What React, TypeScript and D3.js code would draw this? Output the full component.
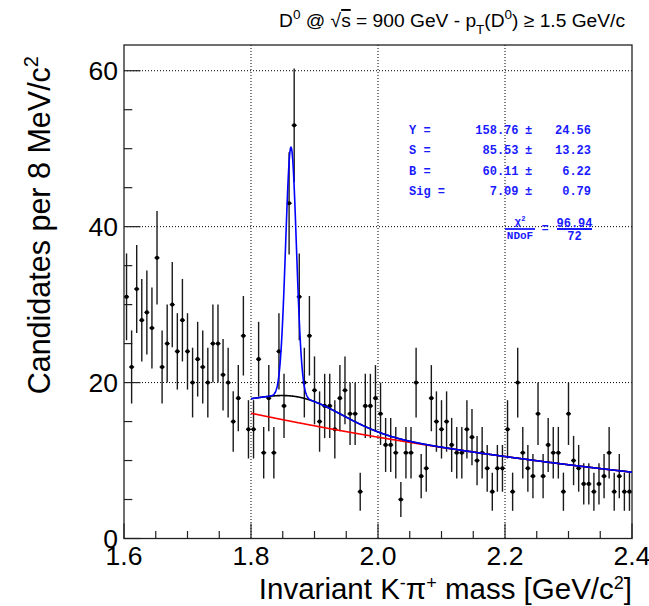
import React from 'react';
import * as d3 from 'd3';

// Histogram: 8 MeV bins from 1.6 to 2.4 GeV/c^2
const binLow = 1.6;
const binWidth = 0.008;
const counts = [
  31, 22, 32, 28, 29, 27, 36, 22, 25, 30,
  24, 28, 24, 20, 23, 22, 20, 25, 25, 21,
  20, 15, 18, 26, 14, 14, 23, 11, 18, 11,
  24, 17, 43, 53, 31, 20, 26, 19, 15, 17,
  17, 14, 18, 19, 16, 16, 6, 17, 17, 18,
  16, 12, 12, 11, 5, 11, 11, 20, 8, 9,
  18, 15, 14, 15, 12, 11, 11, 14, 13, 10,
  11, 9, 6, 9, 9, 14, 6, 20, 11, 9,
  8, 16, 8, 12, 11, 11, 6, 16, 10, 9,
  7, 7, 6, 7, 8, 11, 6, 8, 6, 6,
];

// Fit function parameters
const fitRange = [1.8, 2.4];
const bkgParams = { amp: 16.07, slope: 1.06 };
const reflParams = { amp: 3.3, mean: 1.875, sigma: 0.07 };
const sigParams = { amp: 31.9, mean: 1.863, sigma: 0.0085 };

// Axes
const xDomain = [1.6, 2.4];
const yDomain = [0, 63.3];
const xMajorTicks = [1.6, 1.8, 2.0, 2.2, 2.4];
const xTickLabels = ['1.6', '1.8', '2.0', '2.2', '2.4'];
const yMajorTicks = [0, 20, 40, 60];
const yTickLabels = ['0', '20', '40', '60'];
const xGrid = [1.8, 2.0, 2.2];
const yGrid = [20, 40, 60];

// Stats box
const statNames = ['Y   =', 'S   =', 'B   =', 'Sig ='];
const statValues = ['158.76', '85.53', '60.11', '7.09'];
const statErrors = ['24.56', '13.23', '6.22', '0.79'];
const chi2Value = '96.94';
const ndfValue = '72';

const W = 649;
const H = 606;
const L = 124, R = 632, T = 45, B = 538.5;

const gauss = (x: number, a: number, m: number, s: number) => a * Math.exp(-0.5 * ((x - m) / s) ** 2);
const bkg = (x: number) => bkgParams.amp * Math.exp(-bkgParams.slope * (x - fitRange[0]));
const refl = (x: number) => gauss(x, reflParams.amp, reflParams.mean, reflParams.sigma);
const sig = (x: number) => gauss(x, sigParams.amp, sigParams.mean, sigParams.sigma);

export default function App() {
  const x = d3.scaleLinear().domain(xDomain).range([L, R]);
  const y = d3.scaleLinear().domain(yDomain).range([B, T]);

  const nSamples = 1200;
  const xs = d3.range(nSamples + 1).map(i => fitRange[0] + (fitRange[1] - fitRange[0]) * i / nSamples);
  const line = d3.line<[number, number]>().x(d => x(d[0])).y(d => y(d[1]));
  const redPath = line(xs.map(v => [v, bkg(v)]));
  const blackPath = line(xs.map(v => [v, bkg(v) + refl(v)]));
  const bluePath = line(xs.map(v => [v, bkg(v) + refl(v) + sig(v)]));

  const xMinor = d3.range(xDomain[0], xDomain[1] + 1e-9, 0.05).filter(v => !xMajorTicks.some(m => Math.abs(m - v) < 1e-6));
  const yMinor = d3.range(0, yDomain[1], 5).filter(v => v % 20 !== 0);

  const font = "'Liberation Sans', Arial, Helvetica, sans-serif";
  const mono = "'Liberation Mono', 'Courier New', monospace";
  const blue = '#1a1aff';

  return (
    <svg width={W} height={H} style={{ position: 'absolute', left: 0, top: 0, background: '#fff', display: 'block' }}>
      <rect x={0} y={0} width={W} height={H} fill="#fff" />
      {/* grid */}
      {xGrid.map(g => (
        <line key={'gx' + g} x1={x(g)} x2={x(g)} y1={T} y2={B} stroke="#000" strokeWidth={1} strokeDasharray="1,2" />
      ))}
      {yGrid.map(g => (
        <line key={'gy' + g} x1={L} x2={R} y1={y(g)} y2={y(g)} stroke="#000" strokeWidth={1} strokeDasharray="1,2" />
      ))}

      {/* frame */}
      <rect x={L} y={T} width={R - L} height={B - T} fill="none" stroke="#222" strokeWidth={1.3} />

      {/* x ticks */}
      {xMajorTicks.map(t => (
        <line key={'xt' + t} x1={x(t)} x2={x(t)} y1={B} y2={B - 15} stroke="#222" strokeWidth={1.2} />
      ))}
      {xMinor.map(t => (
        <line key={'xm' + t} x1={x(t)} x2={x(t)} y1={B} y2={B - 7.5} stroke="#222" strokeWidth={1.2} />
      ))}
      {/* y ticks */}
      {yMajorTicks.map(t => (
        <line key={'yt' + t} x1={L} x2={L + 16.5} y1={y(t)} y2={y(t)} stroke="#222" strokeWidth={1.2} />
      ))}
      {yMinor.map(t => (
        <line key={'ym' + t} x1={L} x2={L + 8.3} y1={y(t)} y2={y(t)} stroke="#222" strokeWidth={1.2} />
      ))}

      {/* tick labels */}
      {xMajorTicks.map((t, i) => (
        <text key={'xl' + t} x={x(t)} y={565} textAnchor="middle" fontFamily={font} fontSize={26.5} fill="#000">{xTickLabels[i]}</text>
      ))}
      {yMajorTicks.map((t, i) => (
        <text key={'yl' + t} x={118} y={y(t)} dy="0.36em" textAnchor="end" fontFamily={font} fontSize={26.5} fill="#000">{yTickLabels[i]}</text>
      ))}

      {/* data points */}
      {counts.map((c, i) => {
        const xc = binLow + binWidth * (i + 0.5);
        const err = Math.sqrt(c);
        return (
          <g key={'p' + i}>
            <line x1={x(xc)} x2={x(xc)} y1={y(c - err)} y2={y(c + err)} stroke="#1a1a1a" strokeWidth={1.4} />
            <line x1={x(xc - binWidth / 2)} x2={x(xc + binWidth / 2)} y1={y(c)} y2={y(c)} stroke="#1a1a1a" strokeWidth={1.3} />
            <circle cx={x(xc)} cy={y(c)} r={2.1} fill="#000" />
          </g>
        );
      })}

      {/* fit curves */}
      <path d={redPath || ''} fill="none" stroke="#ff0000" strokeWidth={1.6} />
      <path d={blackPath || ''} fill="none" stroke="#000" strokeWidth={1.6} />
      <path d={bluePath || ''} fill="none" stroke="#0000ff" strokeWidth={1.6} />

      {/* stats box */}
      {statNames.map((n, i) => (
        <g key={'st' + i} fontFamily={mono} fontWeight="bold" fontSize={12} fill={blue}>
          <text x={409} y={134 + i * 20.3}>{n}</text>
          <text x={518.5} y={134 + i * 20.3} textAnchor="end">{statValues[i]}</text>
          <text x={525} y={134 + i * 20.3}>±</text>
          <text x={591} y={134 + i * 20.3} textAnchor="end">{statErrors[i]}</text>
        </g>
      ))}
      <g fontFamily={mono} fontWeight="bold" fill={blue}>
        <text x={520} y={225} textAnchor="middle" fontSize={11}>χ<tspan dy={-4} fontSize={7}>2</tspan></text>
        <line x1={505} x2={535} y1={229} y2={229} stroke={blue} strokeWidth={1.8} />
        <text x={520} y={238.5} textAnchor="middle" fontSize={11}>NDoF</text>
        <text x={545} y={232} textAnchor="middle" fontSize={12}>=</text>
        <text x={574.5} y={226.5} textAnchor="middle" fontSize={12}>{chi2Value}</text>
        <line x1={557} x2={592} y1={229} y2={229} stroke={blue} strokeWidth={1.8} />
        <text x={574.5} y={240} textAnchor="middle" fontSize={12}>{ndfValue}</text>
      </g>

      {/* title */}
      <text x={625} y={27} textAnchor="end" fontFamily={font} fontSize={19.2} fill="#000">
        D<tspan dy={-8} fontSize={13.5}>0</tspan>
        <tspan dy={8}> @ √</tspan>
        <tspan style={{ textDecoration: 'overline' }}>s</tspan>
        <tspan> = 900 GeV - p</tspan>
        <tspan dy={7} fontSize={13.5}>T</tspan>
        <tspan dy={-7}>(D</tspan>
        <tspan dy={-8} fontSize={13.5}>0</tspan>
        <tspan dy={8}>) ≥ 1.5 GeV/c</tspan>
      </text>

      {/* axis titles */}
      <text x={R} y={599} textAnchor="end" fontFamily={font} fontSize={29.5} fill="#000">
        Invariant K<tspan dy={-10} fontSize={18}>-</tspan>
        <tspan dy={10}>π</tspan>
        <tspan dy={-10} fontSize={18}>+</tspan>
        <tspan dy={10}> mass [GeV/c</tspan>
        <tspan dy={-10} fontSize={18}>2</tspan>
        <tspan dy={10}>]</tspan>
      </text>
      <text transform={`translate(50,56) rotate(-90)`} textAnchor="end" fontFamily={font} fontSize={30.5} fill="#000">
        Candidates per 8 MeV/c<tspan dy={-12} fontSize={20}>2</tspan>
      </text>
    </svg>
  );
}
